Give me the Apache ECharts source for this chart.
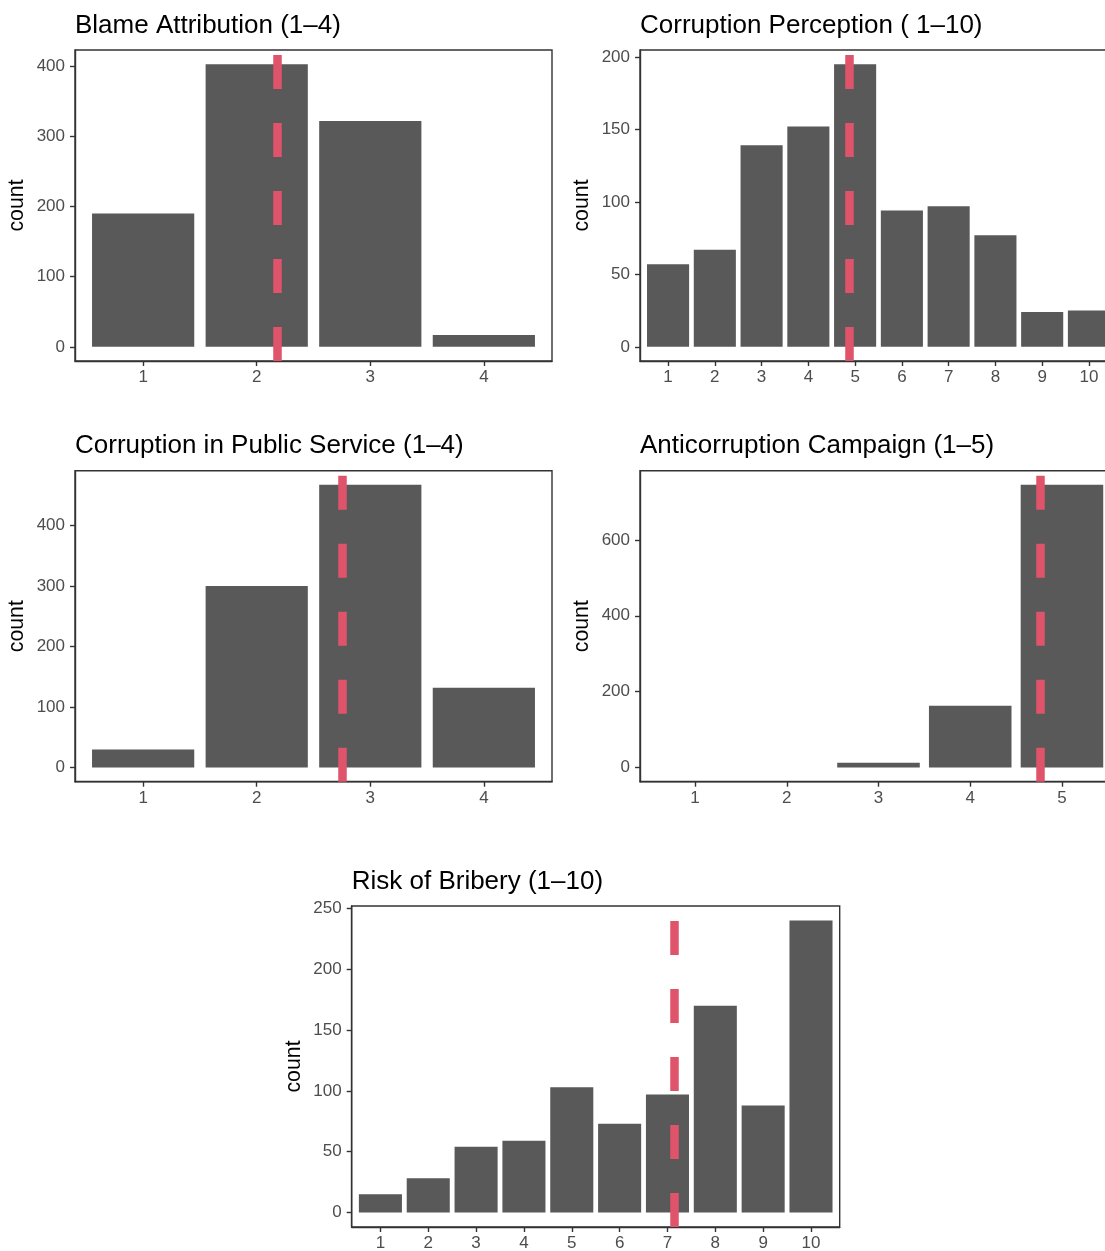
<!DOCTYPE html>
<html>
<head>
<meta charset="utf-8">
<script src="https://cdn.jsdelivr.net/npm/echarts@6/dist/echarts.min.js"></script>
<style>
  html, body { margin: 0; padding: 0; background: #ffffff; }
  #chart { width: 1105px; height: 1251px; }
</style>
</head>
<body>
<div id="chart"></div>
<script>
// ---------- data ----------
const panelTitles = [
  'Blame Attribution (1\u20134)',
  'Corruption Perception ( 1\u201310)',
  'Corruption in Public Service (1\u20134)',
  'Anticorruption Campaign (1\u20135)',
  'Risk of Bribery (1\u201310)'
];

const blameLevels = [1, 2, 3, 4];
const blameCounts = [190, 403, 322, 17];

const perceptionLevels = [1, 2, 3, 4, 5, 6, 7, 8, 9, 10];
const perceptionCounts = [57, 67, 139, 152, 195, 94, 97, 77, 24, 25];

const publicServiceLevels = [1, 2, 3, 4];
const publicServiceCounts = [30, 300, 467, 132];

const campaignLevels = [1, 2, 3, 4, 5];
const campaignCounts = [0, 0, 13, 163, 745];

const briberyLevels = [1, 2, 3, 4, 5, 6, 7, 8, 9, 10];
const briberyCounts = [15, 28, 54, 59, 103, 73, 97, 170, 88, 240];

// mean of each item (dashed line)
const meanLines = [2.18, 4.87, 2.755, 4.765, 7.15];

// y tick labels
const blameTicks = [0, 100, 200, 300, 400];
const perceptionTicks = [0, 50, 100, 150, 200];
const publicServiceTicks = [0, 100, 200, 300, 400];
const campaignTicks = [0, 200, 400, 600];
const briberyTicks = [0, 50, 100, 150, 200, 250];

// ---------- layout (pixels) ----------
const layout = [
  { left: 75,    top: 50,    width: 477, height: 311 },
  { left: 640,   top: 50,    width: 477, height: 311 },
  { left: 75,    top: 470.7, width: 477, height: 311 },
  { left: 640,   top: 470.7, width: 477, height: 311 },
  { left: 351.7, top: 906,   width: 488, height: 321 }
];
const titleOffset = 37.6;

const panels = [
  { levels: blameLevels, counts: blameCounts, ticks: blameTicks },
  { levels: perceptionLevels, counts: perceptionCounts, ticks: perceptionTicks },
  { levels: publicServiceLevels, counts: publicServiceCounts, ticks: publicServiceTicks },
  { levels: campaignLevels, counts: campaignCounts, ticks: campaignTicks },
  { levels: briberyLevels, counts: briberyCounts, ticks: briberyTicks }
];

const FONT = "'Liberation Sans', Arial, Helvetica, sans-serif";
const AXIS_COLOR = '#333333';
const LABEL_COLOR = '#4D4D4D';
const BAR_COLOR = '#595959';
const MEAN_COLOR = '#DF536B';

const grids = [], xAxes = [], yAxes = [], series = [], titles = [];

panels.forEach((p, i) => {
  const L = layout[i];
  const n = p.levels.length;
  const maxC = Math.max(...p.counts);
  grids.push({
    left: L.left, top: L.top, width: L.width, height: L.height,
    show: true, backgroundColor: 'transparent',
    borderColor: AXIS_COLOR, borderWidth: 1.4,
    outerBoundsMode: 'none'
  });
  titles.push({
    text: panelTitles[i],
    left: L.left, top: L.top - titleOffset,
    padding: 0,
    textStyle: { fontFamily: FONT, fontSize: 26, fontWeight: 'normal', color: '#000000' }
  });
  xAxes.push({
    type: 'value', gridIndex: i,
    min: 0.4, max: n + 0.6,
    splitLine: { show: false },
    axisLine: { show: true, onZero: false, lineStyle: { color: AXIS_COLOR, width: 1.4 } },
    axisTick: { show: true, customValues: p.levels, length: 5, lineStyle: { color: AXIS_COLOR, width: 1.4 } },
    axisLabel: { show: true, customValues: p.levels, color: LABEL_COLOR, fontFamily: FONT, fontSize: 17, margin: 8 }
  });
  yAxes.push({
    type: 'value', gridIndex: i,
    min: -0.05 * maxC, max: 1.05 * maxC,
    name: 'count', nameLocation: 'middle', nameGap: 47,
    nameTextStyle: { fontFamily: FONT, fontSize: 21.3, color: '#000000' },
    splitLine: { show: false },
    axisLine: { show: true, onZero: false, lineStyle: { color: AXIS_COLOR, width: 1.4 } },
    axisTick: { show: true, customValues: p.ticks, length: 5, lineStyle: { color: AXIS_COLOR, width: 1.4 } },
    axisLabel: { show: true, customValues: p.ticks, color: LABEL_COLOR, fontFamily: FONT, fontSize: 17, margin: 10 }
  });
  series.push({
    type: 'bar', xAxisIndex: i, yAxisIndex: i,
    data: p.levels.map((lv, j) => [lv, p.counts[j]]),
    barWidth: '90%',
    itemStyle: { color: BAR_COLOR },
    silent: true,
    animation: false,
    markLine: {
      silent: true,
      animation: false,
      symbol: ['none', 'none'],
      label: { show: false },
      lineStyle: { color: MEAN_COLOR, width: 8.5, type: [34, 34], opacity: 1 },
      emphasis: { disabled: true },
      data: [{ xAxis: meanLines[i] }]
    }
  });
});

const chart = echarts.init(document.getElementById('chart'), null, { renderer: 'canvas' });
chart.setOption({
  backgroundColor: '#ffffff',
  animation: false,
  title: titles,
  grid: grids,
  xAxis: xAxes,
  yAxis: yAxes,
  series: series
});
</script>
</body>
</html>
